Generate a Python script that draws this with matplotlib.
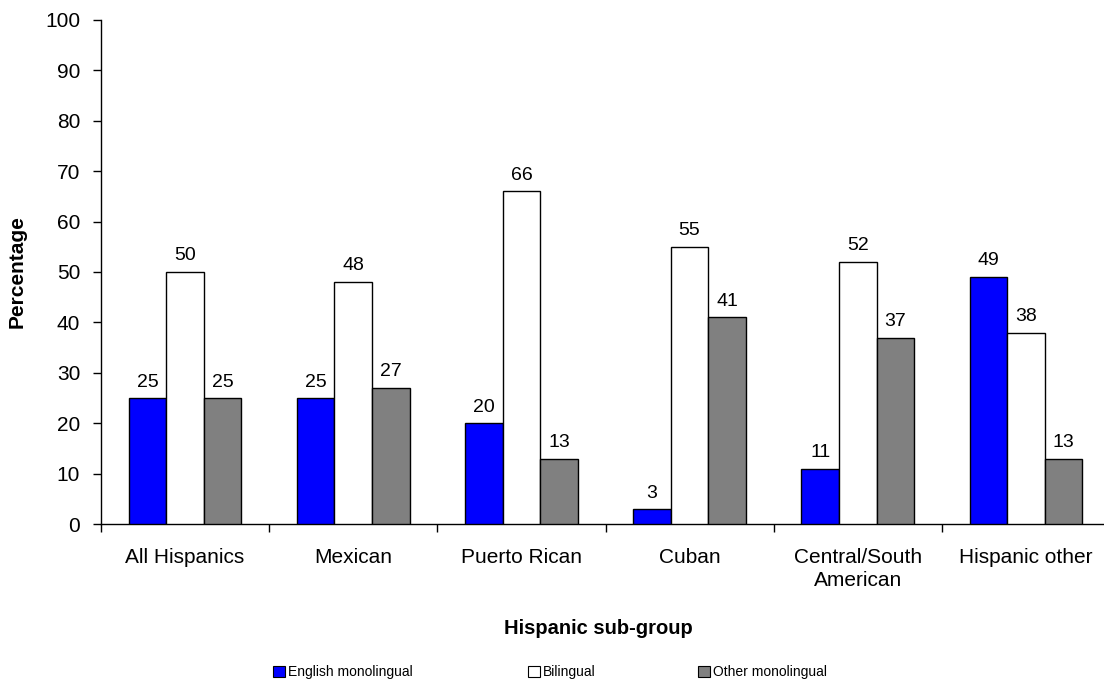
import matplotlib.pyplot as plt
from matplotlib.patches import Patch
import numpy as np

plt.rcParams['font.family'] = ['Liberation Sans', 'DejaVu Sans']

# Data
groups = ['All Hispanics', 'Mexican', 'Puerto Rican', 'Cuban',
          'Central/South\nAmerican', 'Hispanic other']
english_mono = [25, 25, 20, 3, 11, 49]
bilingual = [50, 48, 66, 55, 52, 38]
other_mono = [25, 27, 13, 41, 37, 13]

series = [('English monolingual', english_mono, '#0000FF'),
          ('Bilingual', bilingual, '#FFFFFF'),
          ('Other monolingual', other_mono, '#808080')]

fig = plt.figure(figsize=(11.04, 6.84), dpi=100)
ax = fig.add_axes([101 / 1104, 159.7 / 684, 1009 / 1104, 504.6 / 684])

x = np.arange(len(groups))
w = 0.223
for i, (name, vals, col) in enumerate(series):
    pos = x + (i - 1) * w
    ax.bar(pos, vals, width=w, color=col, edgecolor='black', linewidth=1.0, zorder=3)
    for px, v in zip(pos, vals):
        ax.annotate(str(v), (px, v), xytext=(0, 5.5), textcoords='offset points',
                    ha='center', va='bottom', fontsize=14)

ax.set_xlim(-0.5, 5.5)
ax.set_ylim(0, 100)
ax.set_yticks(range(0, 101, 10))
ax.set_xticks(x)
ax.set_xticklabels(groups, fontsize=15, linespacing=1.25)
ax.set_xticks(np.arange(-0.5, 6, 1), minor=True)
ax.tick_params(axis='x', which='major', length=0, pad=17)
ax.tick_params(axis='x', which='minor', length=6, width=1)
ax.tick_params(axis='y', length=6, width=1, labelsize=15, pad=9)
for s in ['top', 'right']:
    ax.spines[s].set_visible(False)
for s in ['left', 'bottom']:
    ax.spines[s].set_linewidth(1)

ax.set_ylabel('Percentage', fontsize=15, fontweight='bold', labelpad=13)
fig.text(598 / 1104, 1 - 628 / 684, 'Hispanic sub-group', ha='center', va='center',
         fontsize=14.5, fontweight='bold')

legend_x = [273, 528, 698]
for (name, vals, col), lx in zip(series, legend_x):
    fig.legend(handles=[Patch(facecolor=col, edgecolor='black', linewidth=0.8, label=name)],
               loc='center left', bbox_to_anchor=(lx / 1104, 1 - 672 / 684),
               frameon=False, fontsize=10, borderpad=0, borderaxespad=0,
               handlelength=0.87, handleheight=0.87, handletextpad=0.2)

fig.savefig('out.png', dpi=100)
